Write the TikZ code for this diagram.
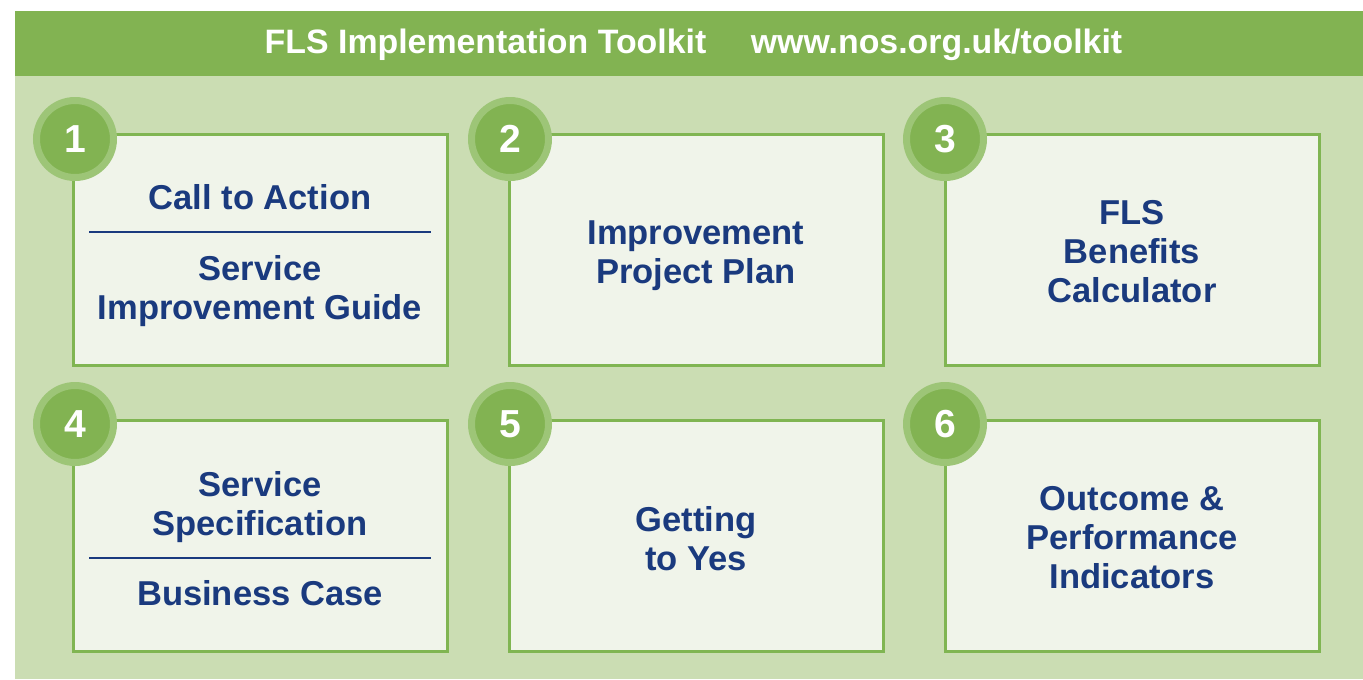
\documentclass[tikz,border=0pt]{standalone}
\usepackage{fontspec}
\setmainfont{Liberation Sans}
\definecolor{headG}{HTML}{82B352}
\definecolor{backG}{HTML}{CBDDB3}
\definecolor{ringG}{HTML}{9DC577}
\definecolor{boxFill}{HTML}{F0F4EA}
\definecolor{boxLine}{HTML}{80B552}
\definecolor{nosBlue}{HTML}{1A3A7E}

\begin{document}
\begin{tikzpicture}
  [x=0.75pt, y=-0.75pt,
   headT/.style={text=white, inner sep=0pt, anchor=base,
     font=\fontsize{25.4pt}{30pt}\selectfont\bfseries},
   toolBox/.style={draw=boxLine, fill=boxFill, line width=2.25pt,
     minimum width=280.5pt, minimum height=173.25pt, inner sep=0pt},
   numN/.style={circle, draw=ringG, fill=headG, line width=5.25pt,
     minimum size=57.75pt, inner sep=0pt, text=white,
     font=\fontsize{29.3pt}{34pt}\selectfont\bfseries},
   boxT/.style={text=nosBlue, align=center, anchor=north, inner sep=0pt,
     font=\fontsize{25.9pt}{29.25pt}\selectfont\bfseries,
     execute at begin node=\strut},
   sepL/.style={draw=nosBlue, line width=1.1pt},
  ]

 % page and header band
 \path[use as bounding box, fill=white] (0,0) rectangle (1363,679);
 \fill[backG] (15,76) rectangle (1363,679);
 \fill[headG] (15,11) rectangle (1363,76);
 \node[headT] (title) at (485.5,53) {FLS Implementation Toolkit};
 \node[headT] (url) at (936.5,53) {www.nos.org.uk/toolkit};

 % the six tools
 \node[toolBox] (box1) at (260,249.5) {};
 \node[toolBox] (box2) at (696,249.5) {};
 \node[toolBox] (box3) at (1132,249.5) {};
 \node[toolBox] (box4) at (260,536) {};
 \node[toolBox] (box5) at (696,536) {};
 \node[toolBox] (box6) at (1132,536) {};

 \node[numN] (num1) at (75,139) {1};
 \node[numN] (num2) at (510,139) {2};
 \node[numN] (num3) at (945,139) {3};
 \node[numN] (num4) at (75,424) {4};
 \node[numN] (num5) at (510,424) {5};
 \node[numN] (num6) at (945,424) {6};

 % texts
 \node[boxT] (call) at (260,182) {Call to Action};
 \draw[sepL] (89,232) -- (431,232);
 \node[boxT] (guide) at (260,255) {Service\\Improvement Guide};
 \node[boxT] (plan) at (696,220) {Improvement\\Project Plan};
 \node[boxT] (calc) at (1132,200) {FLS\\Benefits\\Calculator};
 \node[boxT] (spec) at (260,471) {Service\\Specification};
 \draw[sepL] (89,558) -- (431,558);
 \node[boxT] (case) at (260,578) {Business Case};
 \node[boxT] (yes) at (696,506) {Getting\\to Yes};
 \node[boxT] (kpi) at (1132,486) {Outcome \&\\Performance\\Indicators};
\end{tikzpicture}
\end{document}
